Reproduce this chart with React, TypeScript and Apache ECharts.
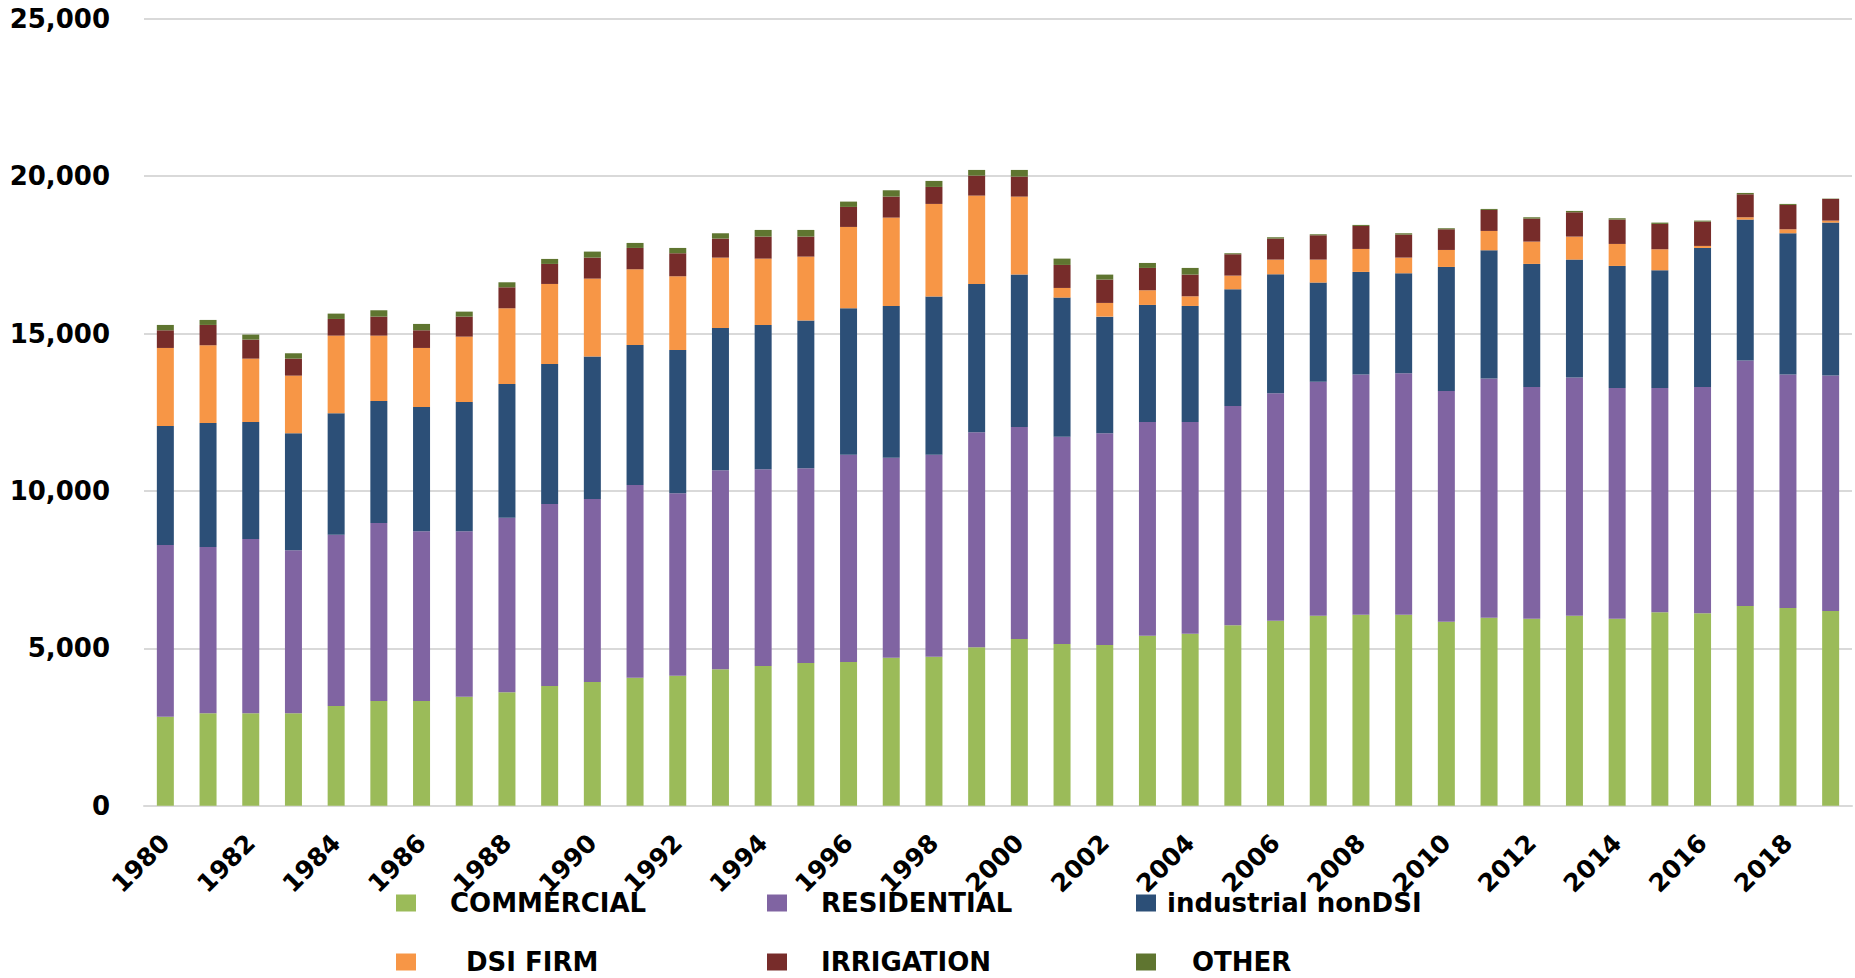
import React, { useEffect, useRef } from "react";
import * as echarts from "echarts";

const years = [
  "1980","1981","1982","1983","1984","1985","1986","1987","1988","1989",
  "1990","1991","1992","1993","1994","1995","1996","1997","1998","1999",
  "2000","2001","2002","2003","2004","2005","2006","2007","2008","2009",
  "2010","2011","2012","2013","2014","2015","2016","2017","2018","2019",
];

const commercial = [2828,2934,2934,2934,3167,3326,3326,3464,3602,3803,3930,4068,4131,4332,4438,4533,4565,4703,4735,5031,5296,5137,5105,5402,5465,5730,5878,6037,6069,6069,5847,5974,5942,6037,5942,6143,6111,6344,6281,6186];
const residential = [5454,5285,5539,5179,5444,5655,5391,5253,5549,5782,5814,6121,5793,6323,6248,6185,6587,6354,6417,6831,6735,6587,6725,6788,6725,6968,7223,7434,7625,7667,7328,7593,7360,7562,7328,7127,7191,7795,7413,7476];
const industrialNonDSI = [3781,3939,3717,3717,3854,3876,3950,4108,4246,4448,4522,4447,4553,4521,4586,4691,4649,4818,5020,4712,4840,4416,3706,3717,3685,3707,3780,3146,3262,3177,3939,4077,3908,3748,3876,3739,4416,4479,4490,4861];
const dsiFirm = [2478,2468,2012,1832,2468,2076,1874,2076,2404,2541,2478,2404,2341,2235,2107,2034,2584,2807,2944,2807,2478,307,435,466,307,434,466,730,730,498,540,614,709,731,699,667,64,74,127,63];
const irrigation = [561,646,604,540,529,603,561,635,667,636,667,678,731,604,699,635,636,667,540,635,635,731,741,710,689,678,668,773,731,731,657,667,731,773,773,805,773,731,773,689];
const other = [170,159,159,170,170,202,202,159,159,159,191,159,169,169,212,212,169,201,191,180,212,201,159,158,212,32,42,32,32,42,32,32,42,43,43,42,31,42,32,10];

const seriesNames = ["COMMERCIAL", "RESIDENTIAL", "industrial nonDSI", "DSI FIRM", "IRRIGATION", "OTHER"];
const seriesData = [commercial, residential, industrialNonDSI, dsiFirm, irrigation, other];
const colors = ["#9BBB59", "#8064A2", "#2C4F77", "#F79646", "#772C2A", "#5F7530"];

const FONT = "DejaVu Sans";

// legend layout: [left, top, text padding-left]
const legendPos: [number, number, number][] = [
  [396, 890, 29],
  [767, 890, 29],
  [1136, 890, 6],
  [396, 949, 45],
  [767, 949, 29],
  [1136, 949, 31],
];

export default function App() {
  const ref = useRef<HTMLDivElement>(null);
  useEffect(() => {
    if (!ref.current) return;
    const chart = echarts.init(ref.current, undefined, { renderer: "svg" });
    chart.setOption({
      animation: false,
      backgroundColor: "#ffffff",
      color: colors,
      grid: { left: 144, right: 3, top: 18.7, bottom: 172.3, containLabel: false },
      legend: seriesNames.map((n, i) => ({
        data: [n],
        left: legendPos[i][0],
        top: legendPos[i][1],
        padding: 0,
        itemWidth: 20,
        itemHeight: 17,
        icon: "rect",
        selectedMode: false,
        textStyle: {
          fontFamily: FONT,
          fontWeight: "bold",
          fontSize: 26,
          lineHeight: 26,
          color: "#000",
          padding: [0, 0, 0, legendPos[i][2]],
        },
      })),
      xAxis: {
        type: "category",
        data: years,
        axisLine: { show: true, lineStyle: { color: "#d9d9d9", width: 2 } },
        axisTick: { show: false },
        axisLabel: {
          interval: 1,
          rotate: 45,
          margin: 33,
          fontFamily: FONT,
          fontWeight: "bold",
          fontSize: 25,
          color: "#000",
        },
      },
      yAxis: {
        type: "value",
        min: 0,
        max: 25000,
        interval: 5000,
        axisLine: { show: false },
        axisTick: { show: false },
        splitLine: { lineStyle: { color: "#d9d9d9", width: 2 } },
        axisLabel: {
          margin: 34,
          fontFamily: FONT,
          fontWeight: "bold",
          fontSize: 26,
          color: "#000",
          formatter: (v: number) => v.toLocaleString("en-US"),
        },
      },
      series: seriesNames.map((n, i) => ({
        name: n,
        type: "bar",
        stack: "total",
        barWidth: 17,
        data: seriesData[i],
        itemStyle: { color: colors[i] },
      })),
    });
    return () => chart.dispose();
  }, []);
  return (
    <div
      ref={ref}
      style={{ position: "fixed", left: 0, top: 0, width: 1855, height: 978 }}
    />
  );
}
